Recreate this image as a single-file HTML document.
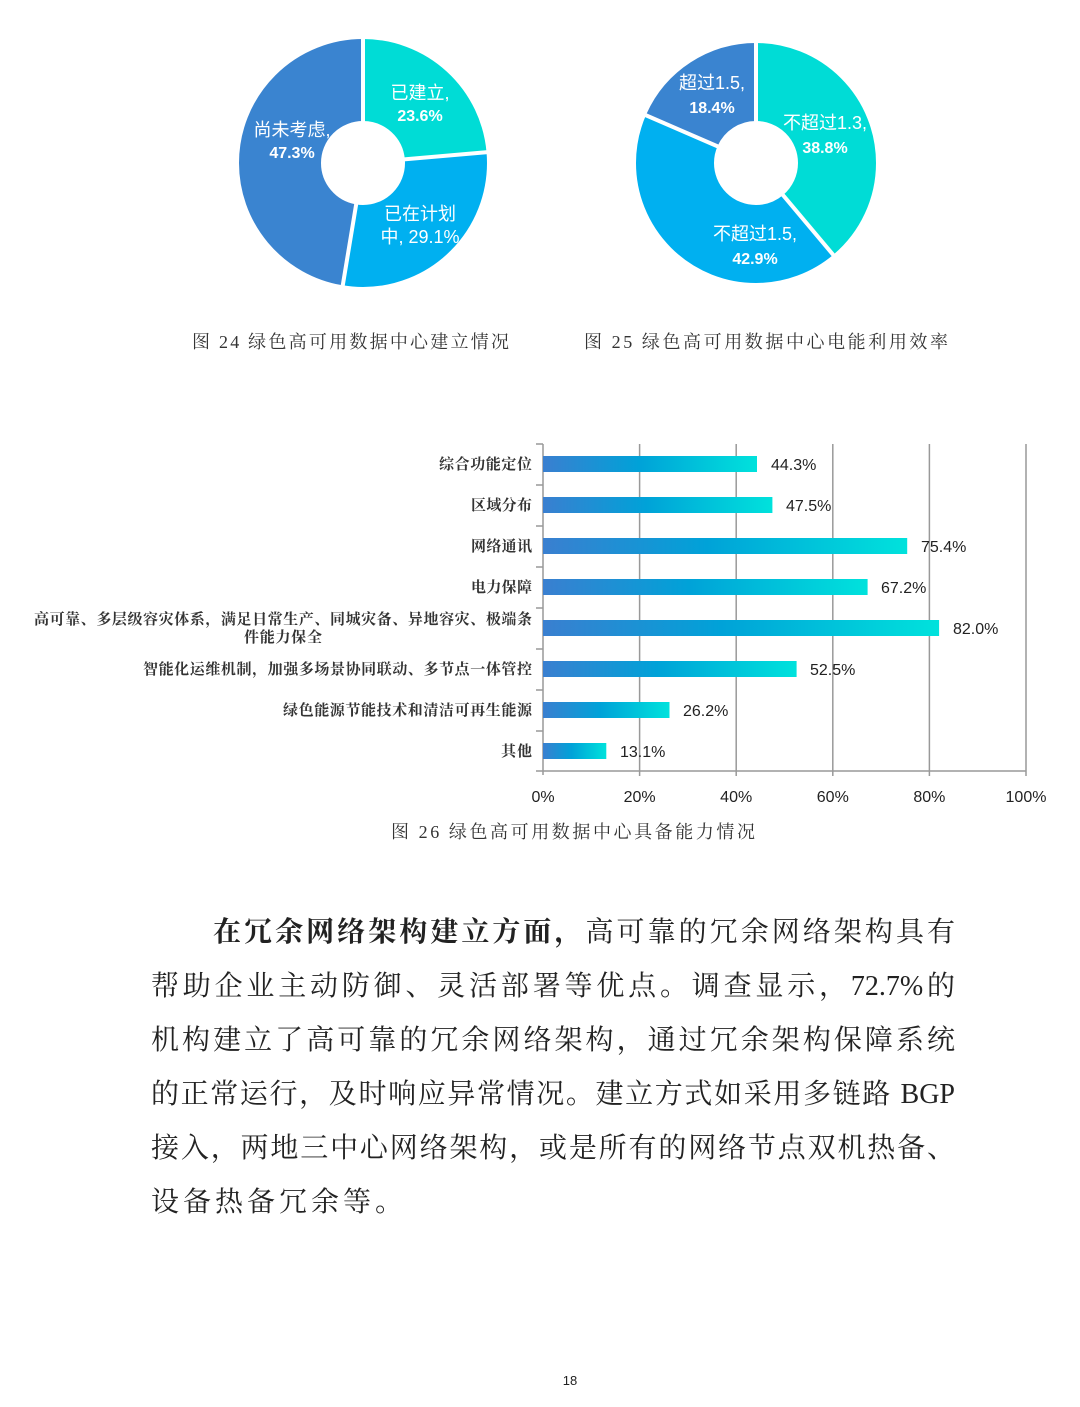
<!DOCTYPE html>
<html><head><meta charset="utf-8"><style>
body{margin:0;background:#fff;width:1080px;height:1407px;position:relative;overflow:hidden}
svg{position:absolute;left:0;top:0}
.p{position:absolute;left:151px;width:804px;font-family:"Liberation Serif","Noto Serif CJK SC",serif;font-size:28px;color:#222;text-align:justify;text-align-last:justify;white-space:nowrap;line-height:40px}
</style></head><body>
<svg width="1080" height="1407" xmlns="http://www.w3.org/2000/svg" font-family="Liberation Sans, Noto Sans CJK SC, sans-serif">
<g transform="translate(363,163) rotate(-90)" fill="none" stroke-width="82">
<circle r="83" stroke="#00dcd6" stroke-dasharray="123.1 600" stroke-dashoffset="0"/>
<circle r="83" stroke="#00b0f0" stroke-dasharray="151.8 600" stroke-dashoffset="-123.1"/>
<circle r="83" stroke="#3a84d0" stroke-dasharray="246.7 600" stroke-dashoffset="-274.9"/>
</g>
<g stroke="#fff" stroke-width="4">
<line x1="363" y1="163" x2="363" y2="36"/>
<line x1="363" y1="163" x2="489" y2="152"/>
<line x1="363" y1="163" x2="342" y2="290"/>
</g>
<g transform="translate(756,163) rotate(-90)" fill="none" stroke-width="78">
<circle r="81" stroke="#00dcd6" stroke-dasharray="197.4 600" stroke-dashoffset="0"/>
<circle r="81" stroke="#00b0f0" stroke-dasharray="218.3 600" stroke-dashoffset="-197.4"/>
<circle r="81" stroke="#3a84d0" stroke-dasharray="93.6 600" stroke-dashoffset="-415.7"/>
</g>
<g stroke="#fff" stroke-width="4">
<line x1="756" y1="163" x2="756" y2="40"/>
<line x1="756" y1="163" x2="835" y2="257"/>
<line x1="756" y1="163" x2="643" y2="114"/>
</g>
<g fill="#fff" font-size="18" text-anchor="middle">
<text x="420" y="99">已建立,</text><text x="420" y="121" font-weight="bold" font-size="16">23.6%</text>
<text x="292" y="136">尚未考虑,</text><text x="292" y="158" font-weight="bold" font-size="16">47.3%</text>
<text x="420" y="220">已在计划</text><text x="420" y="243">中, 29.1%</text>
<text x="712" y="89">超过1.5,</text><text x="712" y="113" font-weight="bold" font-size="16">18.4%</text>
<text x="825" y="129">不超过1.3,</text><text x="825" y="153" font-weight="bold" font-size="16">38.8%</text>
<text x="755" y="240">不超过1.5,</text><text x="755" y="264" font-weight="bold" font-size="16">42.9%</text>
</g>
<g font-family="Liberation Serif, Noto Serif CJK SC, serif" font-size="18" fill="#333">
<text x="192" y="348" textLength="317" lengthAdjust="spacing">图 24 绿色高可用数据中心建立情况</text>
<text x="584" y="348" textLength="364" lengthAdjust="spacing">图 25 绿色高可用数据中心电能利用效率</text>
<text x="391" y="838" textLength="364" lengthAdjust="spacing">图 26 绿色高可用数据中心具备能力情况</text>
</g>
<defs><linearGradient id="g" x1="0" x2="1"><stop offset="0" stop-color="#3a7fd0"/><stop offset="0.45" stop-color="#00a2d8"/><stop offset="1" stop-color="#00e2dc"/></linearGradient></defs>
<g stroke="#999" stroke-width="1.5">
<line x1="639.6" y1="444" x2="639.6" y2="771"/><line x1="736.2" y1="444" x2="736.2" y2="771"/><line x1="832.8" y1="444" x2="832.8" y2="771"/><line x1="929.4" y1="444" x2="929.4" y2="771"/><line x1="1026" y1="444" x2="1026" y2="771"/>
<line x1="543" y1="444" x2="543" y2="775"/><line x1="536" y1="771" x2="1026" y2="771"/>
<line x1="536" y1="444" x2="543" y2="444"/><line x1="536" y1="485" x2="543" y2="485"/><line x1="536" y1="526" x2="543" y2="526"/><line x1="536" y1="567" x2="543" y2="567"/><line x1="536" y1="608" x2="543" y2="608"/><line x1="536" y1="649" x2="543" y2="649"/><line x1="536" y1="690" x2="543" y2="690"/><line x1="536" y1="731" x2="543" y2="731"/>
<line x1="639.6" y1="771" x2="639.6" y2="776"/><line x1="736.2" y1="771" x2="736.2" y2="776"/><line x1="832.8" y1="771" x2="832.8" y2="776"/><line x1="929.4" y1="771" x2="929.4" y2="776"/><line x1="1026" y1="771" x2="1026" y2="776"/>
</g>
<g fill="url(#g)">
<rect x="543" y="456" width="214" height="16"/>
<rect x="543" y="497" width="229.4" height="16"/>
<rect x="543" y="538" width="364.2" height="16"/>
<rect x="543" y="579" width="324.6" height="16"/>
<rect x="543" y="620" width="396.1" height="16"/>
<rect x="543" y="661" width="253.6" height="16"/>
<rect x="543" y="702" width="126.5" height="16"/>
<rect x="543" y="743" width="63.3" height="16"/>
</g>
<g font-size="16" fill="#222">
<text x="771" y="470">44.3%</text><text x="786" y="511">47.5%</text><text x="921" y="552">75.4%</text><text x="881" y="593">67.2%</text><text x="953" y="634">82.0%</text><text x="810" y="675">52.5%</text><text x="683" y="716">26.2%</text><text x="620" y="757">13.1%</text>
</g>
<g font-size="16" fill="#222" text-anchor="middle">
<text x="543" y="802">0%</text><text x="639.6" y="802">20%</text><text x="736.2" y="802">40%</text><text x="832.8" y="802">60%</text><text x="929.4" y="802">80%</text><text x="1026" y="802">100%</text>
</g>
<g font-family="Liberation Serif, Noto Serif CJK SC, serif" font-size="15" fill="#333" font-weight="bold">
<text x="439" y="469" textLength="93" lengthAdjust="spacing">综合功能定位</text>
<text x="471" y="510" textLength="61" lengthAdjust="spacing">区域分布</text>
<text x="471" y="551" textLength="61" lengthAdjust="spacing">网络通讯</text>
<text x="471" y="592" textLength="61" lengthAdjust="spacing">电力保障</text>
<text x="34" y="624" textLength="498" lengthAdjust="spacing">高可靠、多层级容灾体系，满足日常生产、同城灾备、异地容灾、极端条</text>
<text x="244" y="642" textLength="78" lengthAdjust="spacing">件能力保全</text>
<text x="143" y="674" textLength="389" lengthAdjust="spacing">智能化运维机制，加强多场景协同联动、多节点一体管控</text>
<text x="283" y="715" textLength="249" lengthAdjust="spacing">绿色能源节能技术和清洁可再生能源</text>
<text x="501" y="756" textLength="31" lengthAdjust="spacing">其他</text>
</g>
<text x="570" y="1385" font-size="13" text-anchor="middle" fill="#222">18</text>
</svg>
<div class="p" style="top:913px;left:213px;width:742px"><b>在冗余网络架构建立方面，</b>高可靠的冗余网络架构具有</div>
<div class="p" style="top:967px">帮助企业主动防御、灵活部署等优点。调查显示，72.7%的</div>
<div class="p" style="top:1021px">机构建立了高可靠的冗余网络架构，通过冗余架构保障系统</div>
<div class="p" style="top:1075px">的正常运行，及时响应异常情况。建立方式如采用多链路 BGP</div>
<div class="p" style="top:1129px">接入，两地三中心网络架构，或是所有的网络节点双机热备、</div>
<div class="p" style="top:1183px;text-align-last:left;letter-spacing:4px">设备热备冗余等。</div>
</body></html>
